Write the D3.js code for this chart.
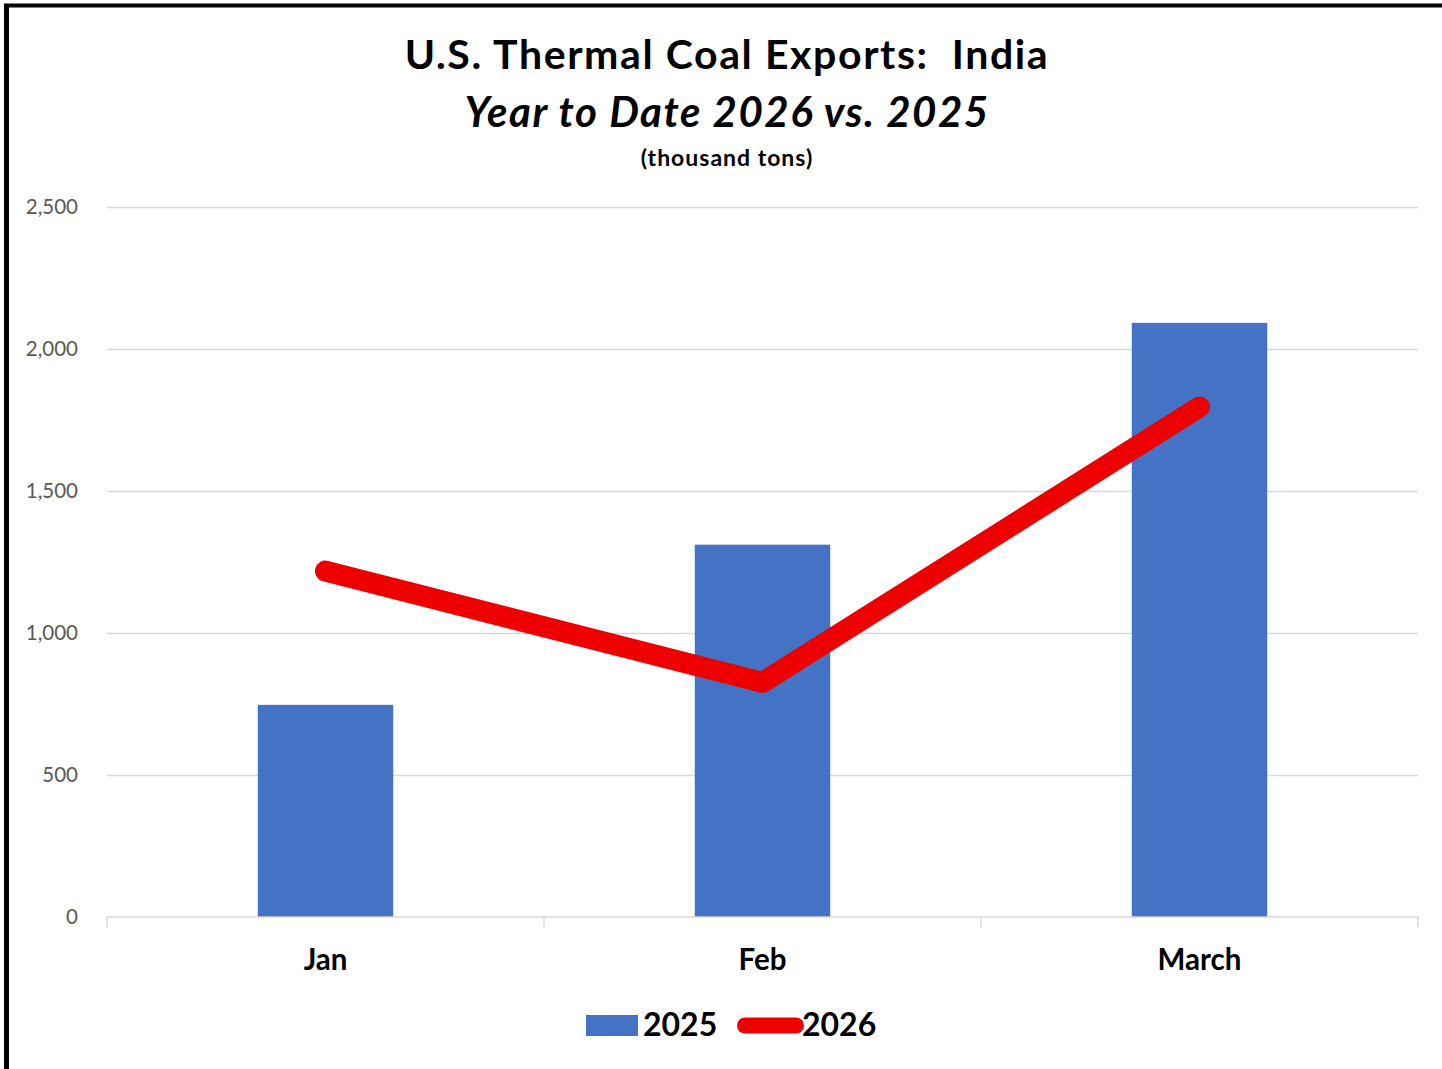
<!DOCTYPE html>
<html lang="en">

<head>
  <meta charset="UTF-8">
  <title>U.S. Thermal Coal Exports: India</title>
  <style>
    body { margin: 0; background: #fff; }
    svg { display: block; font-family: Lato, 'Noto Sans', sans-serif; }
  </style>
</head>

<body>
  <svg class="chart"></svg>
  <script src="https://cdn.jsdelivr.net/npm/d3@7"></script>
  <script>
    let months = ['Jan', 'Feb', 'March']
    let exports2025 = [747, 1311, 2092]
    let exports2026 = [1218, 826, 1796]
    let yTicks = [0, 500, 1000, 1500, 2000, 2500]

    let svgWidth = 1442, svgHeight = 1069
    let margin = { top: 207, right: 24, bottom: 152, left: 107 }

    let svg = d3.select('svg')
      .attr('width', svgWidth)
      .attr('height', svgHeight)

    // frame (only top and left edges visible)
    svg.append('line').attr('x1', 6.5).attr('x2', 6.5).attr('y1', 4).attr('y2', svgHeight)
      .attr('stroke', '#000').attr('stroke-width', 5)
    svg.append('line').attr('x1', 4).attr('x2', svgWidth).attr('y1', 5.5).attr('y2', 5.5)
      .attr('stroke', '#000').attr('stroke-width', 4)

    // titles
    let cx = 727
    svg.append('text').attr('x', cx).attr('y', 69).attr('text-anchor', 'middle')
      .attr('font-size', 41).attr('font-weight', 700).attr('letter-spacing', 1.6)
      .text('U.S. Thermal Coal Exports:\u00a0 India')
    svg.append('text').attr('x', cx).attr('y', 127).attr('text-anchor', 'middle')
      .attr('font-size', 42).attr('font-weight', 700).attr('font-style', 'italic')
      .attr('letter-spacing', 1.5)
      .text('Year to Date 2026 vs. 2025')
    svg.append('text').attr('x', cx).attr('y', 166).attr('text-anchor', 'middle')
      .attr('font-size', 23).attr('font-weight', 700).attr('letter-spacing', 1)
      .text('(thousand tons)')

    let x0 = margin.left, x1 = svgWidth - margin.right
    let y0 = svgHeight - margin.bottom, y1 = margin.top

    let xCat = d3.scaleBand().domain(months).range([x0, x1])
    let xBar = d3.scaleBand().domain(months).range([x0, x1])
      .paddingInner(0.69).paddingOuter(0.345)
    let y = d3.scaleLinear().domain([0, 2500]).range([y0, y1])

    // gridlines
    let grid = svg.append('g').attr('transform', `translate(${x0},0)`)
      .call(d3.axisLeft(y).tickValues(yTicks.slice(1)).tickSize(-(x1 - x0)).tickFormat(''))
    grid.select('.domain').remove()
    grid.selectAll('line').attr('stroke', '#d9d9d9').attr('stroke-width', 1.5)

    // y labels
    let yAxis = svg.append('g').attr('transform', `translate(${x0},0)`)
      .call(d3.axisLeft(y).tickValues(yTicks).tickSize(0).tickPadding(29).tickFormat(d3.format(',')))
    yAxis.select('.domain').remove()
    yAxis.selectAll('text').attr('font-size', 20.5).attr('fill', '#595959')
      .attr('font-family', 'Lato, sans-serif')

    // bars
    svg.append('g').selectAll('rect')
      .data(months)
      .enter()
      .append('rect')
      .attr('x', d => xBar(d))
      .attr('y', (d, i) => y(exports2025[i]))
      .attr('width', xBar.bandwidth())
      .attr('height', (d, i) => y0 - y(exports2025[i]))
      .attr('fill', '#4472c4')

    // category axis
    let xAxis = svg.append('g')
    xAxis.append('line').attr('x1', x0).attr('x2', x1).attr('y1', y0).attr('y2', y0)
      .attr('stroke', '#d9d9d9').attr('stroke-width', 1.5)
    let bounds = months.map(d => xCat(d)).concat([x1])
    xAxis.selectAll('.tick')
      .data(bounds)
      .enter()
      .append('line')
      .attr('x1', d => d).attr('x2', d => d)
      .attr('y1', y0).attr('y2', y0 + 10)
      .attr('stroke', '#d9d9d9').attr('stroke-width', 1.5)
    xAxis.selectAll('text')
      .data(months)
      .enter()
      .append('text')
      .attr('x', d => xCat(d) + xCat.bandwidth() / 2)
      .attr('y', 970)
      .attr('text-anchor', 'middle')
      .attr('font-size', 29.5).attr('font-weight', 700)
      .text(d => d)

    // 2026 line
    let line = d3.line()
      .x((d, i) => xCat(months[i]) + xCat.bandwidth() / 2)
      .y(d => y(d))
    svg.append('path')
      .datum(exports2026)
      .attr('d', line)
      .attr('fill', 'none')
      .attr('stroke', '#ee0000')
      .attr('stroke-width', 21)
      .attr('stroke-linecap', 'round')
      .attr('stroke-linejoin', 'round')

    // legend
    let legend = svg.append('g')
    legend.append('rect').attr('x', 586).attr('y', 1015).attr('width', 52).attr('height', 21)
      .attr('fill', '#4472c4')
    legend.append('text').attr('x', 643).attr('y', 1036)
      .attr('font-size', 32).attr('font-weight', 700).text('2025')
    legend.append('line').attr('x1', 745).attr('x2', 796).attr('y1', 1025.5).attr('y2', 1025.5)
      .attr('stroke', '#ee0000').attr('stroke-width', 16).attr('stroke-linecap', 'round')
    legend.append('text').attr('x', 802).attr('y', 1036)
      .attr('font-size', 32).attr('font-weight', 700).text('2026')
  </script>
</body>

</html>
